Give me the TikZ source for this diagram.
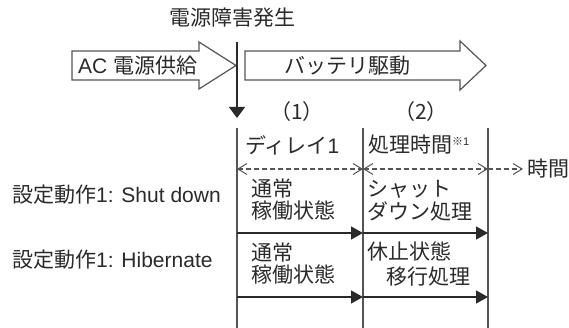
\documentclass[tikz,border=0pt]{standalone}
\usepackage{fontspec}
\setmainfont{Liberation Sans}
\newfontfamily\cjk{Noto Sans CJK JP}
\usetikzlibrary{arrows.meta}
\definecolor{txt}{HTML}{2a2a2a}
\definecolor{ln}{HTML}{555555}
\begin{document}
\begin{tikzpicture}[x=1pt,y=-1pt,
  lbl/.style={anchor=west, inner sep=0pt, text=txt, font=\fontsize{21}{24}\selectfont},
  clbl/.style={anchor=center, inner sep=0pt, text=txt, font=\fontsize{21}{24}\selectfont},
  bigarrow/.style={draw=ln, line width=1.2pt, fill=white},
  vline/.style={draw=ln, line width=1.3pt},
  harrow/.style={draw=txt, line width=1.4pt, -{Triangle[length=12pt,width=13pt]}},
  darrow/.style={draw=ln, line width=1.1pt, dash pattern=on 5pt off 3pt},
  barb/.tip={Straight Barb[length=9pt,width=11pt,line width=1pt]},
  dn/.style={draw=txt, line width=1.4pt, -{Triangle[length=11pt,width=16pt]}}]
\useasboundingbox (0,0) rectangle (569,328);

% title
\node[clbl] (title) at (232,18) {\cjk 電源障害発生};

% big arrows
\draw[bigarrow] (72,51) -- (199,51) -- (199,42) -- (236,65.5) -- (199,89) -- (199,80) -- (72,80) -- cycle;
\node[lbl] (ac) at (78,65.5) {AC {\cjk 電源供給}};
\draw[bigarrow] (245,51) -- (460,51) -- (460,41) -- (486,65.5) -- (460,90) -- (460,80) -- (245,80) -- cycle;
\node[lbl] (bat) at (284,65.5) {\cjk バッテリ駆動};

% failure arrow
\coordinate (ft) at (237,42);
\coordinate (fb) at (237,118);
\draw[dn] (ft) -- (fb);

% phase labels
\node[clbl] (p1) at (297,112) {\cjk （1）};
\node[clbl] (p2) at (421,112) {\cjk （2）};

% vertical lines
\coordinate (a1) at (237,128); \coordinate (a2) at (237,328);
\coordinate (b1) at (363,128); \coordinate (b2) at (363,328);
\coordinate (c1) at (488,128); \coordinate (c2) at (488,328);
\draw[vline] (a1) -- (a2);
\draw[vline] (b1) -- (b2);
\draw[vline] (c1) -- (c2);

% headings
\node[lbl] (d1) at (245,145) {{\cjk ディレイ}1};
\node[lbl] (d2) at (368,145) {{\cjk 処理時間}\raisebox{7pt}{\fontsize{11}{12}\selectfont{\cjk ※}1}};

% time axis
\coordinate (t1) at (237,169);
\coordinate (t2) at (363,169);
\coordinate (t3) at (488,169);
\coordinate (t4) at (523,169);
\draw[darrow, barb-barb] (t1) -- (t2);
\draw[darrow, barb-barb] (t2) -- (t3);
\draw[darrow, -barb] (t3) -- (t4);
\node[lbl] (time) at (527,169) {\cjk 時間};

% left labels
\node[lbl] (s1) at (12,195) {{\cjk 設定動作}1: Shut down};
\node[lbl] (s2) at (12,260) {{\cjk 設定動作}1: Hibernate};

% row 1
\node[lbl] (r1a) at (251,189) {\cjk 通常};
\node[lbl] (r1b) at (251,211) {\cjk 稼働状態};
\node[lbl] (r1c) at (367,189) {\cjk シャット};
\node[lbl] (r1d) at (367,211) {\cjk ダウン処理};
\coordinate (h1a) at (237,233);
\coordinate (h1b) at (363,233);
\coordinate (h1c) at (488,233);
\draw[harrow] (h1a) -- (h1b);
\draw[harrow] (h1b) -- (h1c);

% row 2
\node[lbl] (r2a) at (251,253) {\cjk 通常};
\node[lbl] (r2b) at (251,275) {\cjk 稼働状態};
\node[lbl] (r2c) at (367,251) {\cjk 休止状態};
\node[lbl] (r2d) at (386,277) {\cjk 移行処理};
\coordinate (h2a) at (237,297);
\coordinate (h2b) at (363,297);
\coordinate (h2c) at (488,297);
\draw[harrow] (h2a) -- (h2b);
\draw[harrow] (h2b) -- (h2c);
\end{tikzpicture}
\end{document}
